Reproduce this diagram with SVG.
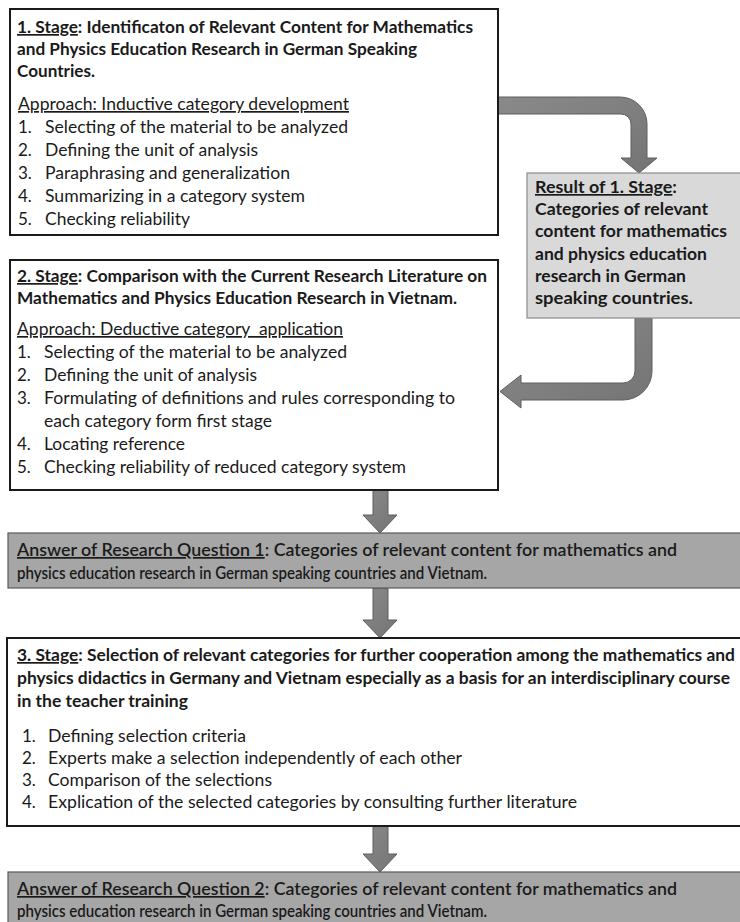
<svg xmlns="http://www.w3.org/2000/svg" width="740" height="922" viewBox="0 0 740 922">
<style>
.t{font-family:Lato,"Open Sans","Liberation Sans",sans-serif;font-size:17px;fill:#1a1a1a}
.b{font-weight:bold}
.m{font-weight:600}
.u{text-decoration:underline}
.pre{white-space:pre}
.box{fill:#fff;stroke:#1a1a1a;stroke-width:2}
.res{fill:#d9d9d9;stroke:#8c8c8c;stroke-width:1.2}
.ans{fill:#a6a6a6;stroke:#5a5a5a;stroke-width:1.2}
.arr{fill:url(#ag);stroke:#5f5f5f;stroke-width:1}
</style>
<defs>
<linearGradient id="ag" x1="0" y1="0" x2="1" y2="1">
<stop offset="0" stop-color="#8a8a8a"/>
<stop offset="1" stop-color="#747474"/>
</linearGradient>
</defs>
<rect width="740" height="922" fill="#fff"/>

<g id="connectors">
<path class="arr" d="M498,97 H620 A27,27 0 0 1 647,124 V158 H657 L639,173 L621,158 H631 V124 A10,10 0 0 0 621,114 H498 Z"/>
<path class="arr" d="M635,318 H652 V371 A29,29 0 0 1 623,400 H521 V408 L500,391.5 L521,375 V383 H623 A12,12 0 0 0 635,371 Z"/>
<path class="arr" d="M373,490 V515 H363 L380,533 L397,515 H388 V490 Z"/>
<path class="arr" d="M373,588 V620 H363 L380,638 L397,620 H388 V588 Z"/>
<path class="arr" d="M373,826 V854 H363 L380,872 L397,854 H388 V826 Z"/>
</g>

<g id="stage1">
<rect class="box" x="10" y="9" width="488" height="226"/>
<text class="t b" x="17" y="33" textLength="456" lengthAdjust="spacingAndGlyphs"><tspan class="u">1. Stage</tspan>: Identificaton of Relevant Content for Mathematics</text>
<text class="t b" x="17" y="55" textLength="400" lengthAdjust="spacingAndGlyphs">and Physics Education Research in German Speaking</text>
<text class="t b" x="17" y="77" textLength="78" lengthAdjust="spacingAndGlyphs">Countries.</text>
<text class="t u" x="18" y="110" textLength="331" lengthAdjust="spacingAndGlyphs">Approach: Inductive category development</text>
<text class="t" x="18" y="133">1.</text><text class="t" x="45" y="133" textLength="303" lengthAdjust="spacingAndGlyphs">Selecting of the material to be analyzed</text>
<text class="t" x="18" y="156">2.</text><text class="t" x="45" y="156" textLength="213" lengthAdjust="spacingAndGlyphs">Defining the unit of analysis</text>
<text class="t" x="18" y="179">3.</text><text class="t" x="45" y="179" textLength="245" lengthAdjust="spacingAndGlyphs">Paraphrasing and generalization</text>
<text class="t" x="18" y="202">4.</text><text class="t" x="45" y="202" textLength="260" lengthAdjust="spacingAndGlyphs">Summarizing in a category system</text>
<text class="t" x="18" y="225">5.</text><text class="t" x="45" y="225" textLength="145" lengthAdjust="spacingAndGlyphs">Checking reliability</text>
</g>

<g id="result1">
<rect class="res" x="527" y="173" width="220" height="145"/>
<text class="t b" x="535" y="193" textLength="142" lengthAdjust="spacingAndGlyphs"><tspan class="u">Result of 1. Stage</tspan>:</text>
<text class="t b" x="535" y="215" textLength="173" lengthAdjust="spacingAndGlyphs">Categories of relevant</text>
<text class="t b" x="535" y="237" textLength="192" lengthAdjust="spacingAndGlyphs">content for mathematics</text>
<text class="t b" x="535" y="260" textLength="172" lengthAdjust="spacingAndGlyphs">and physics education</text>
<text class="t b" x="535" y="282" textLength="151" lengthAdjust="spacingAndGlyphs">research in German</text>
<text class="t b" x="535" y="304" textLength="158" lengthAdjust="spacingAndGlyphs">speaking countries.</text>
</g>

<g id="stage2">
<rect class="box" x="10" y="260" width="488" height="230"/>
<text class="t b" x="17" y="282" textLength="470" lengthAdjust="spacingAndGlyphs"><tspan class="u">2. Stage</tspan>: Comparison with the Current Research Literature on</text>
<text class="t b" x="17" y="304" textLength="440" lengthAdjust="spacingAndGlyphs">Mathematics and Physics Education Research in Vietnam.</text>
<text class="t u pre" x="17" y="335" textLength="326" lengthAdjust="spacingAndGlyphs">Approach: Deductive category  application</text>
<text class="t" x="17" y="358">1.</text><text class="t" x="44" y="358" textLength="303" lengthAdjust="spacingAndGlyphs">Selecting of the material to be analyzed</text>
<text class="t" x="17" y="381">2.</text><text class="t" x="44" y="381" textLength="213" lengthAdjust="spacingAndGlyphs">Defining the unit of analysis</text>
<text class="t" x="17" y="404">3.</text><text class="t" x="44" y="404" textLength="411" lengthAdjust="spacingAndGlyphs">Formulating of definitions and rules corresponding to</text>
<text class="t" x="44" y="427" textLength="228" lengthAdjust="spacingAndGlyphs">each category form first stage</text>
<text class="t" x="17" y="450">4.</text><text class="t" x="44" y="450" textLength="141" lengthAdjust="spacingAndGlyphs">Locating reference</text>
<text class="t" x="17" y="473">5.</text><text class="t" x="44" y="473" textLength="362" lengthAdjust="spacingAndGlyphs">Checking reliability of reduced category system</text>
</g>

<g id="answer1">
<rect class="ans" x="8" y="533" width="740" height="55"/>
<text class="t m" x="17" y="556" textLength="660" lengthAdjust="spacingAndGlyphs"><tspan class="u">Answer of Research Question 1</tspan>: Categories of relevant content for mathematics and</text>
<text class="t m" x="17" y="579" textLength="470" lengthAdjust="spacingAndGlyphs">physics education research in German speaking countries and Vietnam.</text>
</g>

<g id="stage3">
<rect class="box" x="7" y="638" width="745" height="188"/>
<text class="t b" x="17" y="661" textLength="718" lengthAdjust="spacingAndGlyphs"><tspan class="u">3. Stage</tspan>: Selection of relevant categories for further cooperation among the mathematics and</text>
<text class="t b" x="17" y="684" textLength="713" lengthAdjust="spacingAndGlyphs">physics didactics in Germany and Vietnam especially as a basis for an interdisciplinary course</text>
<text class="t b" x="17" y="707" textLength="171" lengthAdjust="spacingAndGlyphs">in the teacher training</text>
<text class="t" x="22" y="742">1.</text><text class="t" x="48" y="742" textLength="198" lengthAdjust="spacingAndGlyphs">Defining selection criteria</text>
<text class="t" x="22" y="764">2.</text><text class="t" x="48" y="764" textLength="414" lengthAdjust="spacingAndGlyphs">Experts make a selection independently of each other</text>
<text class="t" x="22" y="786">3.</text><text class="t" x="48" y="786" textLength="224" lengthAdjust="spacingAndGlyphs">Comparison of the selections</text>
<text class="t" x="22" y="808">4.</text><text class="t" x="48" y="808" textLength="529" lengthAdjust="spacingAndGlyphs">Explication of the selected categories by consulting further literature</text>
</g>

<g id="answer2">
<rect class="ans" x="8" y="872" width="740" height="60"/>
<text class="t m" x="17" y="895" textLength="660" lengthAdjust="spacingAndGlyphs"><tspan class="u">Answer of Research Question 2</tspan>: Categories of relevant content for mathematics and</text>
<text class="t m" x="17" y="917" textLength="470" lengthAdjust="spacingAndGlyphs">physics education research in German speaking countries and Vietnam.</text>
</g>
</svg>
